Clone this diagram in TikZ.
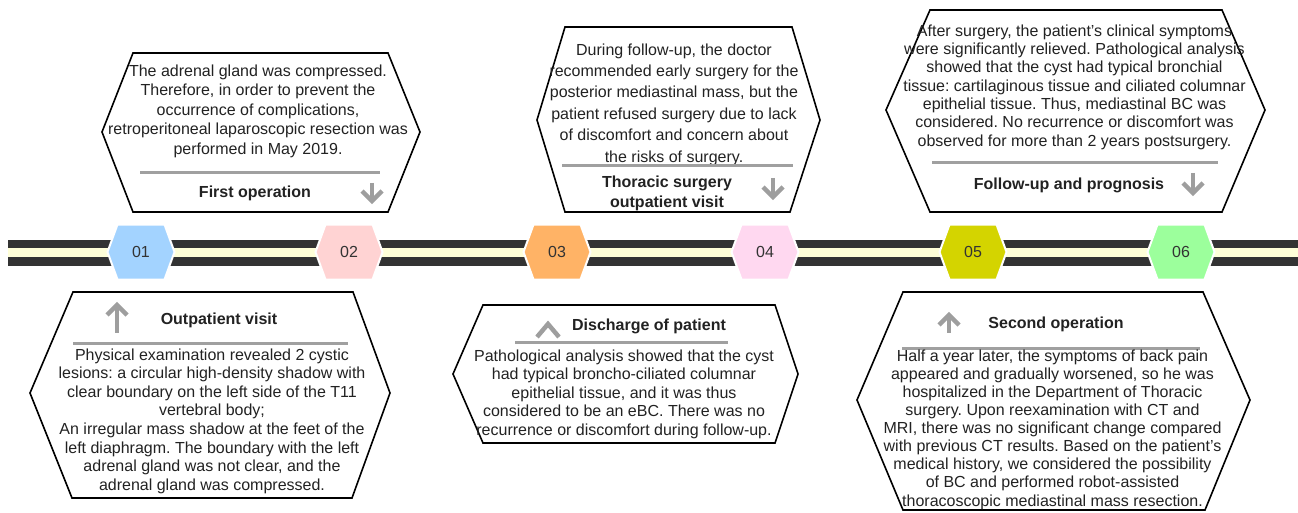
\documentclass[tikz,border=0pt]{standalone}
\usepackage{fontspec}
\setmainfont{Liberation Sans}
\frenchspacing
\definecolor{txt}{HTML}{222222}
\definecolor{numtxt}{HTML}{333333}
\definecolor{band}{HTML}{333333}
\definecolor{cream}{HTML}{FFFFD8}
\definecolor{sepgray}{HTML}{A0A0A0}
\definecolor{arrgray}{HTML}{9E9E9E}
\definecolor{cA}{HTML}{A3D3FF}
\definecolor{cB}{HTML}{FFD3D3}
\definecolor{cC}{HTML}{FFB366}
\definecolor{cD}{HTML}{FFD8F0}
\definecolor{cE}{HTML}{D4D400}
\definecolor{cF}{HTML}{9CFF9C}
\tikzset{
  box/.style={draw=black, line width=1.6pt, line join=miter, fill=white},
  body/.style={font=\fontsize{16}{#1}\selectfont, align=center, text=txt, inner sep=0pt},
  ttl/.style={font=\bfseries\fontsize{16}{20}\selectfont, align=center, text=txt, inner sep=0pt},
  sepline/.style={draw=sepgray, line width=3pt},
  garrow/.style={draw=arrgray, line width=4.5pt, line join=miter},
  marker/.style={draw=white, line width=2pt},
  num/.style={font=\fontsize{16}{19}\selectfont, text=numtxt, inner sep=0pt}
}
\begin{document}
\begin{tikzpicture}[x=1pt,y=-1pt]
\useasboundingbox (0,0) rectangle (1298,513);
% timeline
\fill[band] (8,240) rectangle (1298,266);
\fill[cream] (8,248) rectangle (1298,257);
% markers
\foreach \cx/\col/\lab/\nm in {141/cA/01/m1, 349/cB/02/m2, 557/cC/03/m3, 765/cD/04/m4, 973/cE/05/m5, 1181/cF/06/m6}{
  \filldraw[marker, fill=\col] (\cx-33.5,252) -- (\cx-23.5,224.5) -- (\cx+23.5,224.5) -- (\cx+33.5,252) -- (\cx+23.5,279.5) -- (\cx-23.5,279.5) -- cycle;
  \node[num] (\nm) at (\cx,252) {\lab};
}
% Box A: First operation
\filldraw[box] (133,53) -- (388,53) -- (420,132) -- (388,212) -- (133,212) -- (102,132) -- cycle;
\node[body=19.5] (tA) at (258,111) {The adrenal gland was compressed.\\Therefore, in order to prevent the\\occurrence of complications,\\retroperitoneal laparoscopic resection was\\performed in May 2019.};
\draw[sepline] (140,173) -- (380,173);
\node[ttl] (hA) at (255,193) {First operation};
\draw[garrow] (372,183) -- (372,199);
\draw[garrow] (362,191) -- (372,201) -- (382,191);
% Box B: Outpatient visit
\filldraw[box] (73,292) -- (353,292) -- (390,393) -- (352,498) -- (72,498) -- (30,393) -- cycle;
\node[ttl] (hB) at (219,320) {Outpatient visit};
\draw[garrow] (117,307) -- (117,333);
\draw[garrow] (107,315) -- (117,305) -- (127,315);
\draw[sepline] (73,343) -- (348,343);
\node[body=18.6] (tB) at (212,421) {Physical examination revealed 2 cystic\\lesions: a circular high-density shadow with\\clear boundary on the left side of the T11\\vertebral body;\\An irregular mass shadow at the feet of the\\left diaphragm. The boundary with the left\\adrenal gland was not clear, and the\\adrenal gland was compressed.};
% Box C: Thoracic surgery outpatient visit
\filldraw[box] (565,27) -- (792,27) -- (820,120) -- (790,212) -- (565,212) -- (537,120) -- cycle;
\node[body=21.4] (tC) at (674,104.5) {During follow-up, the doctor\\recommended early surgery for the\\posterior mediastinal mass, but the\\patient refused surgery due to lack\\of discomfort and concern about\\the risks of surgery.};
\draw[sepline] (562,166) -- (793,166);
\node[ttl] (hC) at (667,193) {Thoracic surgery\\outpatient visit};
\draw[garrow] (773,178) -- (773,195);
\draw[garrow] (763,187) -- (773,197) -- (783,187);
% Box D: Discharge of patient
\filldraw[box] (483,305) -- (775,305) -- (798,374) -- (775,443) -- (483,443) -- (453,374) -- cycle;
\node[ttl] (hD) at (649,326) {Discharge of patient};
\draw[garrow] (537,337) -- (548,324) -- (559,337);
\draw[sepline] (515,342) -- (728,342);
\node[body=18.5] (tD) at (624,394) {Pathological analysis showed that the cyst\\had typical broncho-ciliated columnar\\epithelial tissue, and it was thus\\considered to be an eBC. There was no\\recurrence or discomfort during follow-up.};
% Box E: Follow-up and prognosis
\filldraw[box] (930,10) -- (1222,10) -- (1265,110) -- (1222,212) -- (930,212) -- (886,110) -- cycle;
\node[body=18.3] (tE) at (1074.5,87) {After surgery, the patient’s clinical symptoms\\were significantly relieved. Pathological analysis\\showed that the cyst had typical bronchial\\tissue: cartilaginous tissue and ciliated columnar\\epithelial tissue. Thus, mediastinal BC was\\considered. No recurrence or discomfort was\\observed for more than 2 years postsurgery.};
\draw[sepline] (932,163) -- (1218,163);
\node[ttl] (hE) at (1069,185) {Follow-up and prognosis};
\draw[garrow] (1193,173) -- (1193,191);
\draw[garrow] (1183,183) -- (1193,193) -- (1203,183);
% Box F: Second operation
\filldraw[box] (903,292) -- (1203,292) -- (1250,400) -- (1205,510) -- (903,510) -- (857,400) -- cycle;
\node[ttl] (hF) at (1056,324) {Second operation};
\draw[garrow] (949,317) -- (949,333);
\draw[garrow] (939,325) -- (949,315) -- (959,325);
\draw[sepline] (902,348) -- (1200,348);
\node[body=18.1] (tF) at (1052.5,429.5) {Half a year later, the symptoms of back pain\\appeared and gradually worsened, so he was\\hospitalized in the Department of Thoracic\\surgery. Upon reexamination with CT and\\MRI, there was no significant change compared\\with previous CT results. Based on the patient’s\\medical history, we considered the possibility\\of BC and performed robot-assisted\\thoracoscopic mediastinal mass resection.};
\end{tikzpicture}
\end{document}
